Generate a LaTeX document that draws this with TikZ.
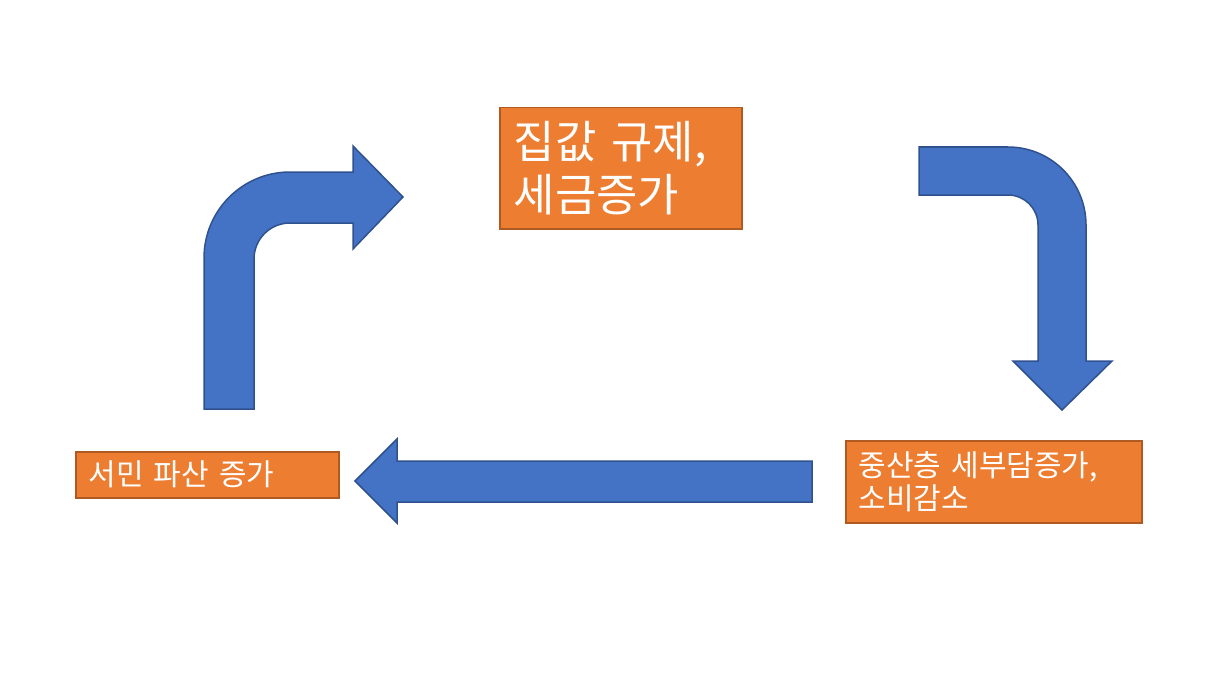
\documentclass[tikz,border=0pt]{standalone}
\usepackage{fontspec}
\setmainfont{Noto Sans CJK KR}
\usepackage{tikz}
\definecolor{boxorange}{HTML}{ED7D31}
\definecolor{boxedge}{HTML}{AE5A21}
\definecolor{arrowblue}{HTML}{4472C4}
\definecolor{arrowedge}{HTML}{2F528F}
\newcommand{\edgewidth}{1.5pt}
\tikzset{orbox/.style={rectangle, draw=boxedge, fill=boxorange, line width=\edgewidth, text=white, align=left, anchor=north west, inner ysep=0pt}}
\tikzset{bluearrow/.style={draw=arrowedge, fill=arrowblue, line width=\edgewidth, line join=miter}}

\begin{document}
\begin{tikzpicture}[x=1pt, y=-1pt]
\useasboundingbox (0,0) rectangle (1223,690);

\node[orbox, inner xsep=14pt, text width=214pt, minimum height=121pt, font=\fontsize{45}{53}\selectfont] (0) at (499,107) {집값 규제,\\세금증가};
\node[orbox, inner xsep=13pt, text width=270pt, minimum height=82pt, font=\fontsize{30}{33}\selectfont] (1) at (845,440) {중산층 세부담증가,\\소비감소};
\node[orbox, inner xsep=13pt, text width=237pt, minimum height=46pt, font=\fontsize{30}{33}\selectfont] (2) at (75,451) {서민 파산 증가};

% bent arrows
\draw[bluearrow] (204,409) -- (204,258) arc[start angle=180, end angle=90, radius=86pt] -- (353,172) -- (353,146) -- (403,197) -- (353,249) -- (353,223) -- (290,223) arc[start angle=90, end angle=180, radius=36pt] -- (254,409) -- cycle;
\draw[bluearrow] (919,147) -- (1008,147) arc[start angle=90, end angle=0, radius=78pt] -- (1086,361) -- (1112,361) -- (1062,410) -- (1013,361) -- (1038,361) -- (1038,225) arc[start angle=0, end angle=90, radius=30pt] -- (919,195) -- cycle;

\draw[bluearrow] (812,461) -- (397,461) -- (397,439) -- (355,481) -- (397,523) -- (397,502) -- (812,502) -- cycle;
\end{tikzpicture}
\end{document}
